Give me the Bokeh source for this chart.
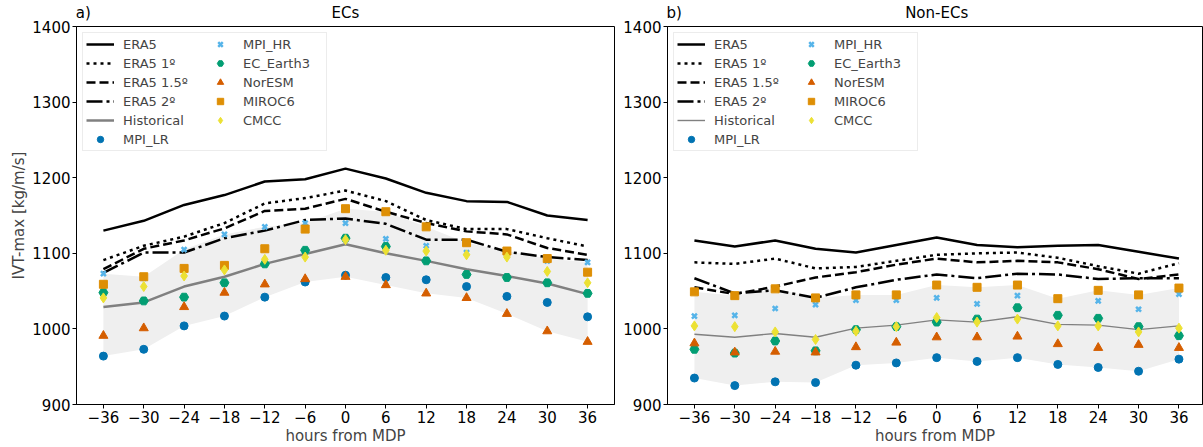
import numpy as np
from bokeh.plotting import figure
from bokeh.models import (ColumnDataSource, Legend, LegendItem, LinearAxis,
                          FixedTicker, Range1d)
from bokeh.layouts import row
from bokeh.embed import file_html
from bokeh.resources import INLINE

hours = [-36, -30, -24, -18, -12, -6, 0, 6, 12, 18, 24, 30, 36]
tick_labels = ["\u221236", "\u221230", "\u221224", "\u221218", "\u221212", "\u22126",
               "0", "6", "12", "18", "24", "30", "36"]
y_ticks = [900, 1000, 1100, 1200, 1300, 1400]

# ---- panel a) ECs ----
a_era5 = [1130, 1143, 1164, 1177, 1195, 1198, 1212, 1199, 1180, 1169, 1168, 1150, 1144]
a_era5_1 = [1091, 1110, 1122, 1140, 1166, 1173, 1183, 1169, 1144, 1132, 1132, 1120, 1109]
a_era5_15 = [1079, 1106, 1117, 1133, 1156, 1159, 1172, 1155, 1140, 1129, 1125, 1107, 1098]
a_era5_2 = [1074, 1101, 1101, 1120, 1130, 1144, 1146, 1139, 1118, 1118, 1102, 1095, 1091]
a_hist = [1029, 1035, 1056, 1069, 1086, 1099, 1112, 1100, 1090, 1079, 1070, 1060, 1046]
a_mpi_lr = [964, 973, 1004, 1017, 1042, 1062, 1071, 1068, 1065, 1056, 1043, 1035, 1016]
a_mpi_hr = [1073, 1067, 1105, 1125, 1135, 1140, 1140, 1119, 1110, 1101, 1100, 1090, 1088]
a_ec_earth = [1048, 1037, 1042, 1061, 1086, 1104, 1120, 1109, 1090, 1072, 1068, 1061, 1047]
a_noresm = [991, 1001, 1029, 1048, 1059, 1066, 1069, 1058, 1047, 1041, 1020, 997, 983]
a_miroc = [1059, 1069, 1080, 1084, 1106, 1132, 1159, 1155, 1135, 1114, 1103, 1093, 1075]
a_cmcc = [1041, 1056, 1070, 1078, 1092, 1095, 1118, 1104, 1103, 1098, 1095, 1076, 1061]

# ---- panel b) Non-ECs ----
b_era5 = [1117, 1109, 1117, 1106, 1101, 1111, 1121, 1111, 1108, 1110, 1111, 1102, 1093]
b_era5_1 = [1088, 1086, 1093, 1080, 1082, 1090, 1098, 1100, 1101, 1094, 1083, 1073, 1087]
b_era5_15 = [1055, 1046, 1056, 1068, 1075, 1085, 1093, 1088, 1090, 1088, 1079, 1066, 1072]
b_era5_2 = [1067, 1047, 1051, 1041, 1055, 1065, 1072, 1067, 1073, 1072, 1066, 1067, 1067]
b_hist = [993, 989, 994, 989, 1001, 1005, 1012, 1009, 1016, 1006, 1005, 999, 1004]
b_mpi_lr = [935, 925, 930, 929, 952, 955, 962, 957, 962, 953, 949, 944, 960]
b_mpi_hr = [1017, 1018, 1027, 1032, 1038, 1038, 1041, 1033, 1044, 1039, 1037, 1026, 1046]
b_ec_earth = [973, 968, 984, 971, 999, 1003, 1009, 1013, 1028, 1018, 1014, 1003, 991]
b_noresm = [981, 969, 970, 969, 976, 982, 989, 989, 990, 980, 975, 979, 975]
b_miroc = [1049, 1044, 1053, 1041, 1045, 1045, 1058, 1055, 1058, 1040, 1051, 1045, 1054]
b_cmcc = [1004, 1003, 996, 986, 997, 1003, 1015, 1009, 1013, 1004, 1004, 996, 1001]

era5_names = ["ERA5", "ERA5 1\u00ba", "ERA5 1.5\u00ba", "ERA5 2\u00ba"]
model_names = ["MPI_LR", "MPI_HR", "EC_Earth3", "NorESM", "MIROC6", "CMCC"]
model_colors = ["#0173b2", "#56b4e9", "#029e73", "#d55e00", "#de8f05", "#ece133"]
model_markers = ["circle", "x", "hex", "triangle", "square", "diamond"]
model_sizes = [8, 7, 9, 9, 8, 10]
era5_dashes = ["solid", "3 4", "9 4", "16 4 3 4"]

FONT = "DejaVu Sans"


def make_panel(letter, title, era5s, hist, models, hist_width, ylabel,
               width, border_left, border_right, x_end):
    src = dict(h=hours, hist=hist, lo=list(np.min(np.array(models), axis=0)),
               hi=list(np.max(np.array(models), axis=0)))
    for i, s in enumerate(era5s):
        src["e%d" % i] = s
    for i, m in enumerate(models):
        src["m%d" % i] = m
    source = ColumnDataSource(src)

    p = figure(width=width, height=447, output_backend="svg",
               toolbar_location=None, x_range=Range1d(-40, x_end),
               y_range=Range1d(900, 1400), min_border_left=border_left,
               min_border_right=border_right, min_border_top=25,
               min_border_bottom=5)
    p.grid.visible = False
    p.outline_line_color = "black"
    p.outline_line_alpha = 1
    p.background_fill_color = "white"

    p.varea(x="h", y1="lo", y2="hi", source=source, fill_color="#efefef")

    items_l = []
    for i, name in enumerate(era5_names):
        r = p.line("h", "e%d" % i, source=source, line_color="black",
                   line_width=2.5, line_dash=era5_dashes[i])
        items_l.append(LegendItem(label=name, renderers=[r]))
    r = p.line("h", "hist", source=source, line_color="#808080",
               line_width=hist_width)
    items_l.append(LegendItem(label="Historical", renderers=[r]))
    for i, name in enumerate(model_names):
        kw = dict(marker=model_markers[i], size=model_sizes[i],
                  fill_color=model_colors[i], line_color=model_colors[i])
        if model_markers[i] == "x":
            kw["line_width"] = 2.5
        r = p.scatter("h", "m%d" % i, source=source, **kw)
        items_l.append(LegendItem(label=name, renderers=[r]))

    leg = Legend(items=items_l, location="top_left", nrows=6,
                 orientation="vertical")
    leg.label_text_font = FONT
    leg.label_text_font_size = "13px"
    leg.glyph_width = 28
    leg.glyph_height = 16
    leg.label_height = 16
    leg.label_width = 80
    leg.spacing = 3
    leg.padding = 3
    leg.margin = 6
    leg.label_standoff = 9
    leg.border_line_color = "#d9d9d9"
    leg.background_fill_alpha = 0.85
    p.add_layout(leg)

    p.xaxis.ticker = FixedTicker(ticks=hours)
    p.xaxis.major_label_overrides = {h: t for h, t in zip(hours, tick_labels)}
    p.yaxis.ticker = FixedTicker(ticks=y_ticks)
    for ax in (p.xaxis, p.yaxis):
        ax.major_label_text_font = FONT
        ax.major_label_text_font_size = "15px"
        ax.major_label_text_color = "black"
        ax.major_tick_in = 0
        ax.major_tick_out = 4
        ax.minor_tick_out = 0
        ax.minor_tick_in = 0
        ax.axis_line_color = "black"
        ax.major_label_standoff = 2
        ax.axis_label_text_font = FONT
        ax.axis_label_text_font_size = "15px"
        ax.axis_label_text_font_style = "normal"
        ax.axis_label_standoff = 1
    p.xaxis.axis_label = "hours from MDP"
    if ylabel:
        p.yaxis.axis_label = ylabel

    # panel letter and title drawn as labels of a bare axis above the frame
    top = LinearAxis(ticker=FixedTicker(ticks=[-39, 0]),
                     major_label_overrides={-39: letter, 0: title})
    top.axis_line_alpha = 0
    top.major_tick_in = 0
    top.major_tick_out = 0
    top.minor_tick_in = 0
    top.minor_tick_out = 0
    top.major_label_standoff = 5
    top.major_label_text_font = FONT
    top.major_label_text_font_size = "15px"
    top.major_label_text_color = "black"
    p.add_layout(top, "above")
    return p


pa = make_panel("a)", "ECs", [a_era5, a_era5_1, a_era5_15, a_era5_2], a_hist,
                [a_mpi_lr, a_mpi_hr, a_ec_earth, a_noresm, a_miroc, a_cmcc],
                2.5, "IVT-max [kg/m/s]", 617, 76, 3, 40)
pb = make_panel("b)", "Non-ECs", [b_era5, b_era5_1, b_era5_15, b_era5_2], b_hist,
                [b_mpi_lr, b_mpi_hr, b_ec_earth, b_noresm, b_miroc, b_cmcc],
                1.4, None, 586, 50, 1, 39.5)

layout = row(pa, pb)
open("out.html", "w").write(file_html(layout, INLINE))
